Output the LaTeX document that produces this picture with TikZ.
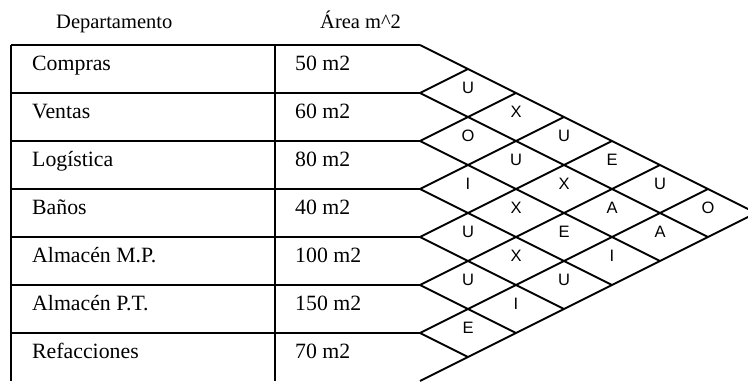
\documentclass[tikz,border=0pt]{standalone}
\usepackage{fontspec}
\setmainfont{Liberation Serif}
\newfontfamily\lettfont{Liberation Sans}
\begin{document}
\begin{tikzpicture}[x=1pt,y=-1pt,
  gridline/.style={line width=1.9pt,line cap=butt},
  hdrtext/.style={anchor=base west,inner sep=0pt,font=\fontsize{20.5}{24}\selectfont},
  celltext/.style={anchor=base west,inner sep=0pt,font=\fontsize{21.8}{26}\selectfont},
  rel/.style={inner sep=0pt,font=\lettfont\fontsize{16.5}{19}\selectfont}]
\useasboundingbox (0,0) rectangle (748,381);
\clip (0,0) rectangle (748,381);
% header
\node[hdrtext] (hdep) at (56,28) {Departamento};
\node[hdrtext] (harea) at (320,28) {Área m\textasciicircum 2};
% table frame
\coordinate (tl) at (11,45);
\coordinate (bl) at (11,381);
\coordinate (cm) at (275,45);
\coordinate (cb) at (275,381);
\draw[gridline] (tl) -- (bl);
\draw[gridline] (cm) -- (cb);
\foreach \k in {0,...,6}{
  \coordinate (R\k) at (11,45+48*\k);
  \coordinate (L\k) at (420,45+48*\k);
  \draw[gridline] (R\k) -- (L\k);
}
\coordinate (L7) at (420,381);
% rows
\foreach \k/\name/\val in {0/Compras/50 m2,1/Ventas/60 m2,2/Logística/80 m2,3/Baños/40 m2,4/Almacén M.P./100 m2,5/Almacén P.T./150 m2,6/Refacciones/70 m2}{
  \node[celltext] (n\k) at (32,70+48*\k) {\name};
  \node[celltext] (v\k) at (295,70+48*\k) {\val};
}
% diamond grid
\foreach \k in {0,...,6}{
  \coordinate (D\k) at (420+48*7-48*\k,45+48*\k+24*7-24*\k);
  \draw[gridline] (L\k) -- (D\k);
}
\foreach \k in {1,...,7}{
  \coordinate (U\k) at (420+48*\k,45+48*\k-24*\k);
  \draw[gridline] (L\k) -- (U\k);
}
% relationship letters
\foreach \i/\j/\t in {1/2/U,2/3/O,3/4/I,4/5/U,5/6/U,6/7/E,
  1/3/X,2/4/U,3/5/X,4/6/X,5/7/I,
  1/4/U,2/5/X,3/6/E,4/7/U,
  1/5/E,2/6/A,3/7/I,
  1/6/U,2/7/A,
  1/7/O}{
  \node[rel] (r\i\j) at (420+48*\j-48*\i,45+24*\i+24*\j-24-5) {\t};
}
\end{tikzpicture}
\end{document}
